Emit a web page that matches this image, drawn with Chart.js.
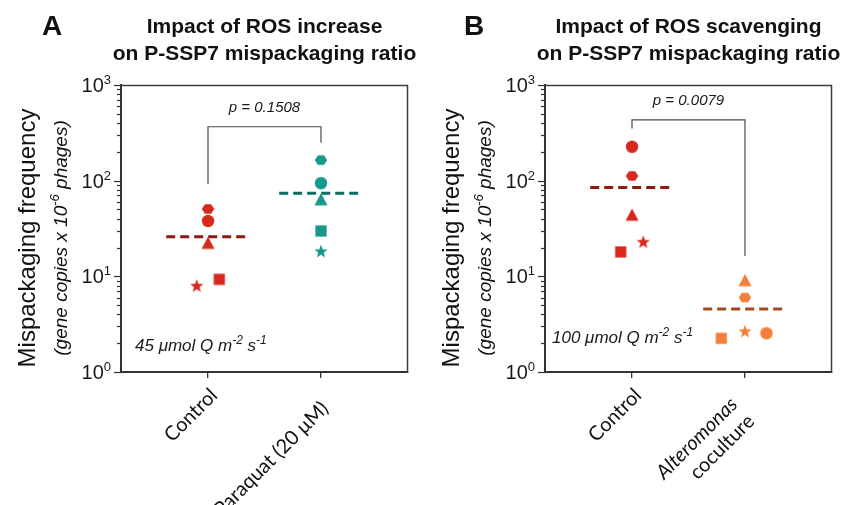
<!DOCTYPE html>
<html><head><meta charset="utf-8">
<script src="https://cdn.jsdelivr.net/npm/chart.js@4.4.1/dist/chart.umd.min.js"></script>
<style>
html,body{margin:0;padding:0;background:#fff;}
#wrap{position:relative;width:845px;height:505px;overflow:hidden;background:#fff;}
canvas{position:absolute;top:0;}
</style></head><body>
<div id="wrap">
<canvas id="cA" width="420" height="505" style="left:0"></canvas>
<canvas id="cB" width="425" height="505" style="left:420px"></canvas>
</div>
<script>
// ---------------- data ----------------
const shapes = ['hexagon', 'circle', 'triangle', 'star', 'rect'];
const yTickValues = [1, 10, 100, 1000];

// Panel A
const titleA = ['Impact of ROS increase', 'on P-SSP7 mispackaging ratio'];
const categoriesA = [['Control'], ['Paraquat (20 μM)']];
const controlA = [50.6, 37.9, 22.1, 7.9, 9.3];
const controlAJitter = [0, 0, 0, -0.10, 0.10];
const paraquatA = [164, 94, 63, 18.1, 29.8];
const paraquatAJitter = [0, 0, 0, 0, 0];
const meansA = [26, 74];
const bracketA = [92, 366, 249];
const pTextA = 'p = 0.1508';
const lightA = '45 μmol Q m';

// Panel B
const titleB = ['Impact of ROS scavenging', 'on P-SSP7 mispackaging ratio'];
const categoriesB = [['Control'], ['Alteromonas', 'coculture']];
const categoriesBItalic = [[false], [true, false]];
const controlB = [112, 226, 43.5, 22.7, 18];
const controlBJitter = [0, 0, 0, 0.10, -0.10];
const alteromonasB = [6.0, 2.54, 9.0, 2.64, 2.25];
const alteromonasBJitter = [0, 0.19, 0, 0, -0.21];
const meansB = [85, 4.56];
const bracketB = [352, 431, 16.3];
const pTextB = 'p = 0.0079';
const lightB = '100 μmol Q m';

// ---------------- helpers ----------------
const RED = '#D8281E', TEAL = '#16988B', ORANGE = '#F2803A';
const RED_MEAN = '#8C1B12', TEAL_MEAN = '#0E6F60', ORANGE_MEAN = '#9E4A1C';
const SANS = '"Liberation Sans", Arial, sans-serif';

function makeMarker(shape, color) {
  const S = 18, c = document.createElement('canvas');
  c.width = S; c.height = S;
  const g = c.getContext('2d'), m = S / 2;
  g.fillStyle = color; g.beginPath();
  if (shape === 'circle') g.arc(m, m, 6.2, 0, 2 * Math.PI);
  else if (shape === 'hexagon') {
    for (let i = 0; i < 6; i++) { const a = i * Math.PI / 3; g.lineTo(m + 6.2 * Math.cos(a), m + 5.4 * Math.sin(a)); }
    g.closePath();
  } else if (shape === 'triangle') {
    g.moveTo(m, m - 6.8); g.lineTo(m + 6.5, m + 5.5); g.lineTo(m - 6.5, m + 5.5); g.closePath();
  } else if (shape === 'rect') {
    g.rect(m - 5.6, m - 5.6, 11.2, 11.2);
  } else if (shape === 'star') {
    for (let i = 0; i < 10; i++) { const r = i % 2 ? 2.9 : 7; const a = -Math.PI / 2 + i * Math.PI / 5; g.lineTo(m + r * Math.cos(a), m + r * Math.sin(a)); }
    g.closePath();
  }
  g.fill();
  return c;
}

function pointsDS(values, jitter, cat, color) {
  return {
    data: values.map((v, i) => ({ x: cat + jitter[i], y: v })),
    pointStyle: shapes.map(s => makeMarker(s, color)),
    pointRadius: 6, showLine: false, order: 1
  };
}
function meanDS(v, cat, color) {
  return {
    data: [{ x: cat - 0.37, y: v }, { x: cat + 0.37, y: v }],
    showLine: true, borderColor: color, borderWidth: 3, borderDash: [9, 5],
    pointRadius: 0, order: 2
  };
}
function bracketDS(b) {
  return {
    data: [{ x: 1, y: b[0] }, { x: 1, y: b[1] }, { x: 2, y: b[1] }, { x: 2, y: b[2] }],
    showLine: true, borderColor: '#4a4a4a', borderWidth: 1.2, pointRadius: 0, order: 3
  };
}

// draw a sequence of text runs (with optional superscript) ; align: left|right|center
function drawRuns(ctx, runs, x, y, align) {
  let w = 0;
  runs.forEach(r => { ctx.font = r.font; r.w = ctx.measureText(r.t).width; w += r.w; });
  let cx = align === 'right' ? x - w : align === 'center' ? x - w / 2 : x;
  ctx.textAlign = 'left'; ctx.textBaseline = 'alphabetic';
  runs.forEach(r => { ctx.font = r.font; ctx.fillText(r.t, cx, y + (r.dy || 0)); cx += r.w; });
}

function panelPlugin(P) {
  return {
    id: 'deco',
    afterDraw(chart) {
      const { ctx, chartArea: a, scales: { x, y } } = chart;
      ctx.save();
      // top / right frame
      ctx.strokeStyle = '#3c3c3c'; ctx.lineWidth = 1.5;
      ctx.beginPath(); ctx.moveTo(a.left, a.top + 0.5); ctx.lineTo(a.right - 0.5, a.top + 0.5); ctx.lineTo(a.right - 0.5, a.bottom); ctx.stroke();

      // y tick marks (major + minor)
      ctx.strokeStyle = '#333'; ctx.lineWidth = 1.2;
      for (let d = 0; d <= 3; d++) {
        for (let k = 1; k <= (d === 3 ? 1 : 9); k++) {
          const py = Math.round(y.getPixelForValue(k * Math.pow(10, d))) + 0.5;
          const len = k === 1 ? 7 : 4;
          ctx.beginPath(); ctx.moveTo(a.left - len, py); ctx.lineTo(a.left, py); ctx.stroke();
        }
      }
      // y tick labels 10^n
      ctx.fillStyle = '#1a1a1a';
      yTickValues.forEach(v => {
        const py = y.getPixelForValue(v);
        const e = String(Math.round(Math.log10(v)));
        drawRuns(ctx, [{ t: '10', font: '20px ' + SANS }, { t: e, font: '13px ' + SANS, dy: -8 }], a.left - 10, py + 7, 'right');
      });

      // x category labels (rotated)
      P.cats.forEach((lines, i) => {
        const px = x.getPixelForValue(i + 1);
        const off = P.labelOff[i];
        ctx.save();
        ctx.translate(px + off[0], a.bottom + off[1]);
        ctx.rotate(-Math.PI / 4);
        ctx.textAlign = 'right'; ctx.textBaseline = 'top'; ctx.fillStyle = '#111';
        lines.forEach((ln, j) => {
          const it = P.italic && P.italic[i][j];
          ctx.font = (it ? 'italic ' : '') + '20px Lato, "Open Sans", sans-serif';
          ctx.fillText(ln, 0, j * 24);
        });
        ctx.restore();
      });

      // panel letter & title
      const cx = (a.left + a.right) / 2;
      ctx.fillStyle = '#111';
      ctx.textAlign = 'left'; ctx.textBaseline = 'alphabetic';
      ctx.font = 'bold 28px ' + SANS;
      ctx.fillText(P.letter, P.letterX, 35);
      ctx.textAlign = 'center';
      ctx.font = 'bold 21px ' + SANS;
      ctx.fillText(P.title[0], cx, 33);
      ctx.fillText(P.title[1], cx, 60);

      // y axis title
      ctx.save();
      ctx.translate(a.left - 86, 238);
      ctx.rotate(-Math.PI / 2);
      ctx.fillStyle = '#111';
      ctx.textAlign = 'center'; ctx.textBaseline = 'alphabetic';
      ctx.font = '24px ' + SANS;
      ctx.fillText('Mispackaging frequency', 0, 0);
      drawRuns(ctx, [
        { t: '(gene copies x 10', font: 'italic 19px ' + SANS },
        { t: '-6', font: 'italic 13px ' + SANS, dy: -8 },
        { t: ' phages)', font: 'italic 19px ' + SANS }
      ], 0, 32, 'center');
      ctx.restore();

      // p value
      ctx.fillStyle = '#1a1a1a';
      const topPx = y.getPixelForValue(P.bracket[1]);
      drawRuns(ctx, [{ t: P.pText, font: 'italic 15px ' + SANS }], x.getPixelForValue(1.5), topPx - 15, 'center');

      // light intensity annotation
      drawRuns(ctx, [
        { t: P.light, font: 'italic 17px ' + SANS },
        { t: '-2', font: 'italic 12px ' + SANS, dy: -7 },
        { t: ' s', font: 'italic 17px ' + SANS },
        { t: '-1', font: 'italic 12px ' + SANS, dy: -7 }
      ], a.left + P.lightX, a.bottom - P.lightY, 'left');

      ctx.restore();
    }
  };
}

function makeChart(id, datasets, yWidth, rightPad, P) {
  return new Chart(document.getElementById(id), {
    type: 'scatter',
    data: { datasets },
    options: {
      responsive: false, animation: false, events: [],
      layout: { padding: { top: 85, right: rightPad, bottom: 0, left: 0 } },
      plugins: { legend: { display: false }, tooltip: { enabled: false }, title: { display: false } },
      scales: {
        x: {
          type: 'linear', min: 0.23, max: 2.77,
          afterBuildTicks: s => { s.ticks = [{ value: 1 }, { value: 2 }]; },
          grid: { display: true, drawOnChartArea: false, drawTicks: true, tickLength: 6, color: '#333', lineWidth: 1.3 },
          border: { display: true, color: '#333', width: 2 },
          ticks: { display: false },
          afterFit: s => { s.height = 133; }
        },
        y: {
          type: 'logarithmic', min: 1, max: 1000,
          grid: { display: false },
          border: { display: true, color: '#333', width: 2 },
          ticks: { display: false },
          afterFit: s => { s.width = yWidth; }
        }
      }
    },
    plugins: [panelPlugin(P)]
  });
}

makeChart('cA', [
  pointsDS(controlA, controlAJitter, 1, RED),
  pointsDS(paraquatA, paraquatAJitter, 2, TEAL),
  meanDS(meansA[0], 1, RED_MEAN),
  meanDS(meansA[1], 2, TEAL_MEAN),
  bracketDS(bracketA)
], 121, 12, {
  letter: 'A', letterX: 42, title: titleA, cats: categoriesA,
  labelOff: [[-1, 13], [-3, 26]], bracket: bracketA, pText: pTextA,
  light: lightA, lightX: 14, lightY: 21
});

makeChart('cB', [
  pointsDS(controlB, controlBJitter, 1, RED),
  pointsDS(alteromonasB, alteromonasBJitter, 2, ORANGE),
  meanDS(meansB[0], 1, RED_MEAN),
  meanDS(meansB[1], 2, ORANGE_MEAN),
  bracketDS(bracketB)
], 125, 13, {
  letter: 'B', letterX: 44, title: titleB, cats: categoriesB, italic: categoriesBItalic,
  labelOff: [[-1, 13], [-18, 22]], bracket: bracketB, pText: pTextB,
  light: lightB, lightX: 7, lightY: 29
});
</script>
</body></html>
